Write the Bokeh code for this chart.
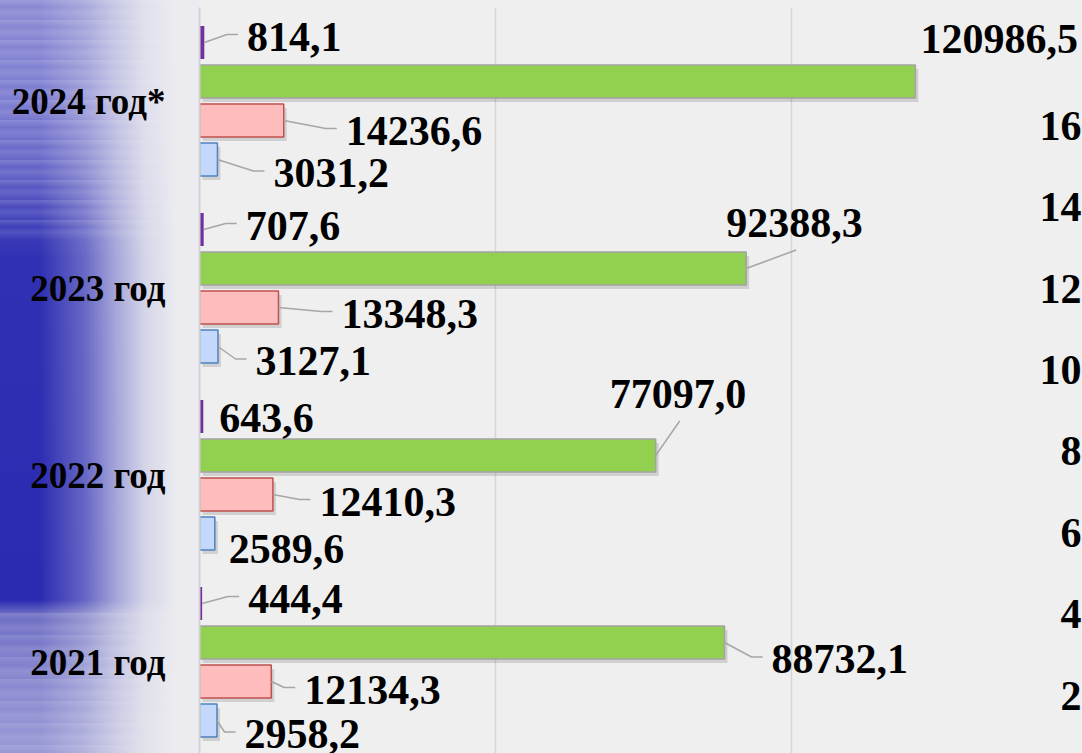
from bokeh.plotting import figure
from bokeh.models import Range1d, FixedTicker
from bokeh.core.properties import value
from bokeh.embed import file_html
from bokeh.resources import INLINE

# ---------------- data ----------------
years = ["2021 год", "2022 год", "2023 год", "2024 год*"]
series_purple = [444.4, 643.6, 707.6, 814.1]
series_green = [88732.1, 77097.0, 92388.3, 120986.5]
series_red = [12134.3, 12410.3, 13348.3, 14236.6]
series_blue = [2958.2, 2589.6, 3127.1, 3031.2]
right_ticks = [20, 40, 60, 80, 100, 120, 140, 160]
grid_values = [0, 50000, 100000, 150000]

# ---------------- layout / style ----------------
W, H = 1082, 753
LEFT, TOP = 199, 7
PX_X = 0.005917          # pixels per unit of value
PX_Y = 187.0             # pixels per category
X_END = (W - LEFT) / PX_X
Y_END = 3.5
Y_START = Y_END - (H - TOP) / PX_Y
BAR_H = 33 / PX_Y
FONT = value("Liberation Serif")

series = [
    dict(v=series_purple, off=-58.5, fill="#7030a0", line=None, shadow=False,
         dx=[46, 16, 42, 42.7], dy=[-5, 1, -4, -6],
         mode=["side", "none", "side", "side"]),
    dict(v=series_green, off=-19.5, fill="#92d050", line="#a3a3a3", shadow=True,
         dx=[47, -46, -20, 5], dy=[16.5, -61.5, -45.5, -42.5],
         mode=["side", "below", "below", "none"]),
    dict(v=series_red, off=19.5, fill="#ffbcbc", line="#c0504d", shadow=True,
         dx=[33, 46.6, 63, 62], dy=[8, 7, 6, 10],
         mode=["side", "side", "side", "side"]),
    dict(v=series_blue, off=58.5, fill="#c3d8fa", line="#4f81bd", shadow=True,
         dx=[27.5, 14, 37.5, 56], dy=[13.5, 15.5, 14.5, 13.5],
         mode=["side", "none", "side", "side"]),
]

p = figure(width=W, height=H, output_backend="svg", toolbar_location=None,
           x_range=Range1d(0, X_END), y_range=Range1d(Y_START, Y_END),
           min_border_left=LEFT, min_border_top=TOP, min_border_right=0,
           min_border_bottom=0)
p.extra_y_ranges = {"r": Range1d(5.75, 189.1)}

p.styles = {
    "background-color": "#efefef",
    "background-image": (
        "linear-gradient(to right, rgba(236,236,240,0) 0px, rgba(236,236,240,0) 40px, "
        "rgba(236,236,240,0.3) 85px, rgba(236,236,240,0.62) 115px, rgba(236,236,240,0.88) 145px, "
        "rgba(236,236,240,1) 178px),"
        "linear-gradient(to bottom, rgba(255,255,255,0.0) 0px, rgba(255,255,255,0) 100%),"
        "repeating-linear-gradient(to bottom, rgba(255,255,255,0.16) 0px, rgba(255,255,255,0) 7px, "
        "rgba(255,255,255,0.11) 12px, rgba(255,255,255,0) 20px),"
        "repeating-linear-gradient(to bottom, rgba(255,255,255,0.13) 0px, rgba(255,255,255,0) 8px, "
        "rgba(255,255,255,0.1) 14px, rgba(255,255,255,0) 22px),"
        "linear-gradient(to bottom, #8a8ad4 0px, #7a7ad0 110px, #6262c6 170px, #4444bb 215px, "
        "#3030b4 260px, #2b2bb2 600px, #6e6ec4 614px, #8686cf 680px, #9898d6 753px)"
    ),
    "background-size": "200px 100%, 200px 100%, 200px 240px, 200px 140px, 200px 100%",
    "background-position": "0 0, 0 0, 0 0, 0 613px, 0 0",
    "background-repeat": "no-repeat",
}
p.background_fill_color = "#efefef"
p.background_fill_alpha = 1.0
p.border_fill_alpha = 0.0
p.outline_line_color = None

p.xaxis.visible = False
p.xgrid.ticker = FixedTicker(ticks=grid_values)
p.xgrid.grid_line_color = "#d6d6d6"
p.xgrid.grid_line_width = 1.5
p.ygrid.visible = False

yax = p.yaxis[0]
yax.ticker = FixedTicker(ticks=list(range(len(years))))
yax.major_label_overrides = {i: y for i, y in enumerate(years)}
yax.axis_line_color = "#d2d2d2"
yax.axis_line_width = 2
yax.major_tick_line_color = None
yax.minor_tick_line_color = None
yax.major_tick_out = 0
yax.major_tick_in = 0
yax.major_label_standoff = 34
yax.major_label_text_font = "Liberation Serif"
yax.major_label_text_font_style = "bold"
yax.major_label_text_font_size = "37px"
yax.major_label_text_color = "#000000"

idx = list(range(len(years)))

# shadows
for s in series:
    if not s["shadow"]:
        continue
    ys = [i - (s["off"] + 4) / PX_Y for i in idx]
    p.hbar(y=ys, left=[3 / PX_X] * len(idx), right=[v + 3 / PX_X for v in s["v"]],
           height=BAR_H, fill_color="#000000", fill_alpha=0.13, line_color=None)

# bars
for s in series:
    ys = [i - s["off"] / PX_Y for i in idx]
    p.hbar(y=ys, left=0, right=s["v"], height=BAR_H, fill_color=s["fill"],
           line_color=s["line"], line_width=1.5 if s["line"] else 0)

# leaders and labels
lx, ly, lt = [], [], []
mxs, mys = [], []
for s in series:
    for i, v in enumerate(s["v"]):
        yc = i - s["off"] / PX_Y
        dx, dy = s["dx"][i], s["dy"][i]
        lx.append(v + dx / PX_X)
        ly.append(yc - dy / PX_Y)
        lt.append(f"{v:.1f}".replace(".", ","))
        mode = s["mode"][i]
        if mode == "side":
            pts = [(0, 0), (dx - 20, dy - 2), (dx - 9, dy - 2)]
        elif mode == "below":
            pts = [(0, 0), (dx + 70, dy + 27)]
        else:
            continue
        mxs.append([v + a / PX_X for a, b in pts])
        mys.append([yc - b / PX_Y for a, b in pts])

p.multi_line(xs=mxs, ys=mys, line_color="#a6a6a6", line_width=1.5)
p.text(x=lx, y=ly, text=lt, text_font=FONT, text_font_style="bold",
       text_font_size="42px", text_baseline="middle", text_align="left",
       text_color="#000000")

# cut-off secondary scale labels at the right edge
rx = (1102 - LEFT) / PX_X
p.text(x=[rx] * len(right_ticks), y=right_ticks, text=[str(t) for t in right_ticks],
       y_range_name="r", text_font=FONT, text_font_style="bold",
       text_font_size="42px", text_baseline="middle", text_align="right",
       text_color="#000000")

open("out.html", "w").write(file_html(p, INLINE))
